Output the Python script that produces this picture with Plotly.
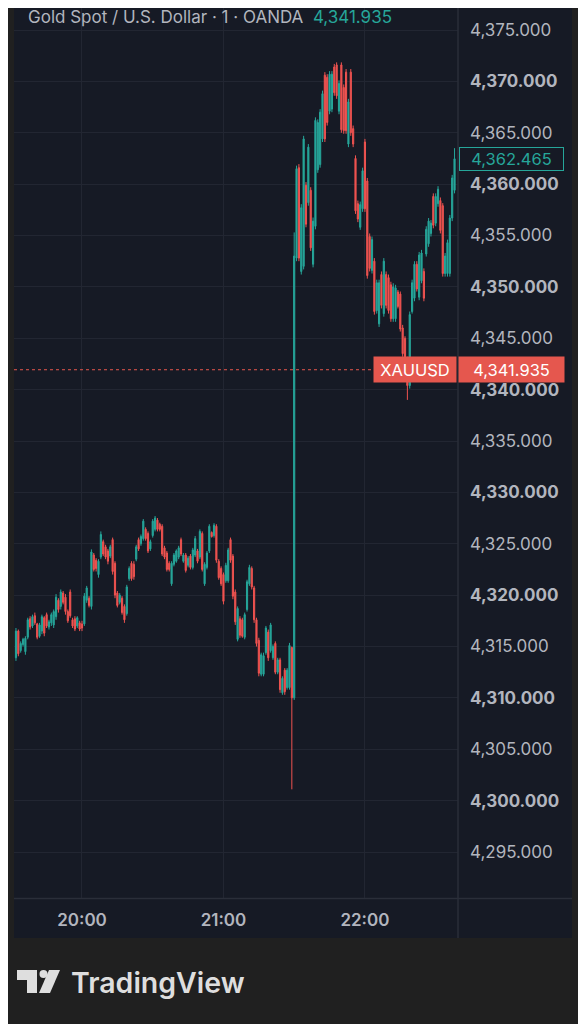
import plotly.graph_objects as go
import pandas as pd

# ---------------- data ----------------
start_time = "2025-10-21 19:32"

opens = [
    4313.9, 4316.5, 4314.6, 4315.2, 4314.5, 4315.9, 4317.7, 4317.0, 4318.0, 4317.2,
    4316.0, 4316.5, 4317.8, 4318.1, 4316.9, 4317.3, 4317.1, 4317.9, 4319.5, 4318.9,
    4320.2, 4319.8, 4318.4, 4320.3, 4317.6, 4317.7, 4317.0, 4317.3, 4317.2, 4317.2,
    4319.5, 4319.7, 4318.9, 4323.9, 4323.4, 4322.0, 4323.7, 4325.2, 4324.7, 4324.3,
    4323.8, 4325.4, 4323.1, 4320.2, 4319.3, 4319.7, 4318.9, 4318.2, 4321.6, 4323.1,
    4323.0, 4323.5, 4325.4, 4325.0, 4325.5, 4326.4, 4326.0, 4324.5, 4325.8, 4326.4,
    4327.3, 4326.9, 4326.7, 4324.6, 4324.1, 4323.1, 4321.1, 4323.0, 4323.3, 4323.7,
    4325.4, 4323.3, 4323.9, 4322.9, 4323.8, 4322.7, 4323.9, 4324.3, 4323.7, 4326.0,
    4321.1, 4322.7, 4324.3, 4326.1, 4325.8, 4326.7, 4323.3, 4322.6, 4322.0, 4321.4,
    4321.4, 4325.4, 4323.8, 4320.3, 4315.7, 4317.7, 4317.6, 4315.9, 4318.6, 4321.1,
    4322.6, 4320.7, 4317.6, 4315.6, 4312.3, 4312.3, 4314.4, 4316.4, 4314.6, 4313.9,
    4315.3, 4312.5, 4313.7, 4310.5, 4312.7, 4311.0, 4311.0, 4314.9, 4310.0, 4352.8,
    4361.6, 4351.5, 4352.0, 4359.9, 4358.2, 4359.4, 4352.2, 4355.9, 4361.4, 4361.9,
    4364.4, 4370.6, 4370.4, 4367.1, 4367.3, 4371.4, 4371.6, 4367.1, 4371.6, 4369.4,
    4370.9, 4363.9, 4370.9, 4365.4, 4362.5, 4358.1, 4355.8, 4357.6, 4364.1, 4360.3,
    4354.9, 4351.6, 4352.5, 4347.7, 4346.4, 4351.2, 4347.4, 4351.2, 4350.9, 4350.2,
    4346.9, 4346.9, 4349.5, 4349.3, 4346.0, 4345.0, 4343.0, 4340.4, 4347.6, 4348.9,
    4352.2, 4349.0, 4350.6, 4351.5, 4353.2, 4354.2, 4355.2, 4358.8, 4356.2, 4358.1,
    4358.4, 4357.9, 4351.3, 4351.3, 4351.3, 4356.7, 4359.4,
]
highs = [
    4316.8, 4316.65, 4315.5, 4315.85, 4316.0, 4317.8, 4317.95, 4318.1, 4318.3, 4317.3,
    4317.3, 4318.1, 4317.95, 4318.3, 4317.6, 4318.3, 4318.6, 4320.1, 4319.7, 4320.55,
    4320.4, 4320.1, 4318.6, 4320.55, 4317.8, 4317.95, 4317.95, 4317.5, 4317.5, 4320.2,
    4320.9, 4319.9, 4324.45, 4324.1, 4323.6, 4323.5, 4326.2, 4325.4, 4324.9, 4324.5,
    4324.9, 4325.6, 4323.3, 4320.4, 4320.2, 4319.9, 4319.1, 4321.0, 4322.8, 4323.3,
    4323.3, 4324.9, 4325.6, 4325.9, 4327.4, 4326.6, 4326.2, 4325.4, 4327.4, 4327.7,
    4327.5, 4327.05, 4326.9, 4324.8, 4324.3, 4323.3, 4323.3, 4324.1, 4324.45, 4324.8,
    4325.6, 4324.1, 4324.1, 4323.8, 4324.0, 4324.6, 4325.75, 4324.5, 4326.4, 4326.2,
    4323.2, 4324.3, 4326.9, 4326.2, 4327.0, 4326.9, 4323.5, 4322.8, 4322.2, 4323.15,
    4324.6, 4325.6, 4324.0, 4320.55, 4318.9, 4317.95, 4317.8, 4318.3, 4321.5, 4322.95,
    4322.8, 4320.9, 4317.8, 4315.85, 4314.4, 4314.4, 4317.0, 4316.65, 4317.3, 4315.2,
    4315.5, 4313.9, 4313.9, 4312.1, 4312.9, 4312.9, 4315.35, 4315.0, 4355.3, 4361.8,
    4361.95, 4358.05, 4364.7, 4360.2, 4363.9, 4359.7, 4356.75, 4366.5, 4366.3, 4367.3,
    4369.1, 4370.9, 4370.7, 4371.0, 4371.0, 4371.7, 4371.85, 4370.1, 4371.85, 4369.7,
    4371.2, 4368.3, 4371.2, 4365.7, 4362.8, 4358.4, 4358.3, 4361.6, 4364.4, 4360.6,
    4355.2, 4354.9, 4352.8, 4350.7, 4350.7, 4351.5, 4352.8, 4351.5, 4351.2, 4350.5,
    4350.35, 4350.2, 4349.7, 4349.55, 4346.3, 4345.2, 4343.2, 4347.6, 4350.7, 4352.5,
    4352.5, 4353.4, 4353.6, 4351.8, 4355.9, 4356.7, 4356.5, 4359.1, 4359.1, 4359.8,
    4358.7, 4358.15, 4353.3, 4354.6, 4357.0, 4360.9, 4363.5,
]
lows = [
    4313.6, 4314.05, 4314.4, 4315.0, 4314.2, 4315.7, 4316.65, 4316.8, 4317.1, 4315.7,
    4315.85, 4316.2, 4316.0, 4316.8, 4316.65, 4317.0, 4316.8, 4317.6, 4318.3, 4318.6,
    4319.1, 4318.1, 4317.3, 4317.8, 4316.8, 4316.5, 4316.8, 4316.5, 4316.5, 4317.0,
    4319.25, 4318.8, 4318.6, 4322.3, 4322.3, 4321.7, 4323.5, 4323.8, 4323.5, 4323.0,
    4323.6, 4322.0, 4319.7, 4318.8, 4319.1, 4318.1, 4317.3, 4318.0, 4321.4, 4321.4,
    4321.5, 4323.3, 4324.3, 4324.8, 4325.3, 4325.3, 4324.1, 4324.3, 4325.6, 4326.2,
    4326.2, 4326.2, 4323.8, 4323.5, 4322.3, 4322.3, 4320.9, 4322.8, 4323.15, 4323.5,
    4323.8, 4323.15, 4322.2, 4322.7, 4322.5, 4322.5, 4323.7, 4323.1, 4323.5, 4322.3,
    4320.9, 4322.5, 4324.1, 4325.6, 4325.6, 4323.15, 4321.5, 4320.9, 4319.1, 4321.2,
    4321.2, 4323.15, 4319.6, 4317.1, 4315.5, 4315.85, 4315.85, 4315.7, 4318.4, 4320.9,
    4320.55, 4317.3, 4315.0, 4312.1, 4312.1, 4312.1, 4314.2, 4313.6, 4314.4, 4313.7,
    4312.3, 4312.3, 4310.5, 4310.3, 4310.3, 4310.8, 4310.8, 4301.1, 4309.8, 4352.5,
    4352.5, 4351.2, 4351.7, 4355.8, 4357.9, 4353.5, 4351.9, 4355.6, 4361.1, 4361.6,
    4364.1, 4364.1, 4365.7, 4366.8, 4367.0, 4368.6, 4368.3, 4366.8, 4365.0, 4364.9,
    4364.9, 4363.6, 4364.7, 4363.6, 4357.1, 4356.3, 4355.55, 4357.3, 4357.3, 4350.8,
    4351.5, 4351.3, 4347.3, 4347.4, 4346.1, 4347.9, 4347.1, 4347.9, 4347.4, 4346.6,
    4346.6, 4346.6, 4347.9, 4345.65, 4343.2, 4342.0, 4339.0, 4340.1, 4347.4, 4348.6,
    4349.55, 4348.7, 4350.35, 4348.6, 4352.95, 4353.9, 4354.9, 4355.7, 4355.9, 4357.8,
    4355.2, 4351.0, 4351.0, 4351.0, 4351.0, 4356.4, 4359.1,
]
closes = [
    4316.5, 4314.3, 4315.3, 4315.7, 4315.8, 4317.6, 4316.9, 4317.9, 4317.3, 4315.9,
    4317.1, 4317.9, 4316.3, 4317.0, 4317.4, 4318.1, 4318.4, 4319.8, 4318.6, 4320.3,
    4319.3, 4318.4, 4317.5, 4318.0, 4317.0, 4316.7, 4317.8, 4316.7, 4316.8, 4319.9,
    4320.7, 4319.0, 4324.2, 4322.5, 4322.6, 4323.3, 4325.9, 4324.0, 4323.7, 4323.3,
    4324.7, 4322.3, 4320.0, 4319.0, 4320.0, 4318.3, 4317.6, 4320.8, 4322.6, 4321.6,
    4321.8, 4324.7, 4324.5, 4325.7, 4327.2, 4325.5, 4324.3, 4325.2, 4327.2, 4327.5,
    4326.4, 4326.4, 4324.0, 4323.7, 4322.5, 4322.5, 4323.1, 4323.9, 4324.3, 4324.6,
    4324.0, 4323.9, 4322.4, 4323.6, 4322.7, 4324.4, 4325.5, 4323.3, 4326.2, 4322.5,
    4323.0, 4324.1, 4326.7, 4325.7, 4326.8, 4323.4, 4321.7, 4321.1, 4319.4, 4322.9,
    4324.4, 4323.4, 4319.9, 4317.4, 4318.7, 4316.1, 4316.0, 4318.1, 4321.3, 4322.7,
    4320.8, 4317.6, 4315.3, 4312.4, 4314.2, 4314.1, 4316.8, 4313.9, 4317.1, 4315.0,
    4312.5, 4313.7, 4310.8, 4311.9, 4310.6, 4312.7, 4315.1, 4310.0, 4353.0, 4361.5,
    4352.8, 4357.7, 4364.4, 4356.1, 4363.6, 4353.8, 4356.4, 4366.2, 4366.0, 4367.0,
    4368.8, 4364.4, 4366.0, 4370.7, 4370.7, 4368.9, 4368.6, 4369.8, 4365.3, 4365.2,
    4365.2, 4368.0, 4365.0, 4363.9, 4357.4, 4356.6, 4358.0, 4361.3, 4357.6, 4351.1,
    4351.8, 4354.6, 4347.6, 4350.4, 4350.4, 4348.2, 4352.5, 4348.2, 4347.7, 4346.9,
    4350.0, 4349.9, 4348.1, 4345.9, 4343.5, 4342.3, 4340.4, 4347.3, 4350.4, 4352.2,
    4349.8, 4353.1, 4353.3, 4348.9, 4355.6, 4356.4, 4356.2, 4356.0, 4358.8, 4359.5,
    4355.5, 4351.3, 4353.0, 4354.3, 4356.7, 4360.6, 4362.465,
]

price_ticks = [4295, 4300, 4305, 4310, 4315, 4320, 4325, 4330, 4335, 4340,
               4345, 4350, 4355, 4360, 4365, 4370, 4375]
time_ticks = ["2025-10-21 20:00", "2025-10-21 21:00", "2025-10-21 22:00"]
time_tick_labels = ["20:00", "21:00", "22:00"]

symbol_title = "Gold Spot / U.S. Dollar · 1 · OANDA"
ref_price = 4341.935
last_price = 4362.465
symbol = "XAUUSD"

times = pd.date_range(start_time, periods=len(closes), freq="min")

# ---------------- styling ----------------
PAGE_BG = "#202020"
PANEL_BG = "#161a25"
GRID = "#222632"
SEP = "#2a2e39"
TEXT = "#b2b5be"
UP = "#26a69a"
DOWN = "#ef5350"
LABEL_RED = "#e5574e"
LOGO = "#dedede"
FONT = "Inter"

W, H = 586, 1024
OFF = 8                      # page offset of the figure div (body margin)
# plot area in screen px
S_L, S_R, S_T, S_B = 14, 458, OFF, 898
PL, PR, PT, PB = S_L - OFF, S_R - OFF, S_T - OFF, S_B - OFF


def px2x(sx):
    """screen x (px) -> paper x"""
    return (sx - OFF - PL) / (PR - PL)


def py2y(sy):
    """screen y (px) -> paper y"""
    return (PB - (sy - OFF)) / (PB - PT)


fig = go.Figure()
fig.add_trace(go.Candlestick(
    x=times, open=opens, high=highs, low=lows, close=closes,
    increasing=dict(line=dict(color=UP, width=1), fillcolor=UP),
    decreasing=dict(line=dict(color=DOWN, width=1), fillcolor=DOWN),
    whiskerwidth=0, showlegend=False, hoverinfo="skip",
))

tick_text = []
for v in price_ticks:
    s = f"{v:,.3f}"
    tick_text.append(f"<b>{s}</b>" if v % 10 == 0 else s)

shapes = [
    # panel background (covers axes areas)
    dict(type="rect", xref="paper", yref="paper", x0=px2x(14), x1=px2x(572),
         y0=py2y(938), y1=py2y(0), fillcolor=PANEL_BG, line=dict(width=0), layer="below"),
    # price axis separator
    dict(type="line", xref="paper", yref="paper", x0=px2x(458), x1=px2x(458),
         y0=py2y(938), y1=py2y(0), line=dict(color=SEP, width=1.5)),
    # time axis separator
    dict(type="line", xref="paper", yref="paper", x0=px2x(14), x1=px2x(572),
         y0=py2y(898.5), y1=py2y(898.5), line=dict(color=SEP, width=1.5)),
    # reference price dotted line
    dict(type="line", xref="paper", yref="y", x0=0, x1=px2x(373),
         y0=ref_price, y1=ref_price, line=dict(color=LABEL_RED, width=1, dash="dot")),
    # TradingView logo glyph
    dict(type="path", xref="paper", yref="paper",
         path=(f"M {px2x(17)},{py2y(970)} L {px2x(37)},{py2y(970)} L {px2x(37)},{py2y(993)} "
               f"L {px2x(27)},{py2y(993)} L {px2x(27)},{py2y(980)} L {px2x(17)},{py2y(980)} Z"),
         fillcolor=LOGO, line=dict(width=0)),
    dict(type="circle", xref="paper", yref="paper", x0=px2x(39.5), x1=px2x(47.5),
         y0=py2y(978), y1=py2y(970), fillcolor=LOGO, line=dict(width=0)),
    dict(type="path", xref="paper", yref="paper",
         path=(f"M {px2x(49)},{py2y(970)} L {px2x(60)},{py2y(970)} L {px2x(50)},{py2y(993)} "
               f"L {px2x(39)},{py2y(993)} Z"),
         fillcolor=LOGO, line=dict(width=0)),
]

annotations = [
    dict(xref="paper", yref="paper", x=px2x(26), y=py2y(17), xanchor="left", yanchor="middle",
         text=f"{symbol_title}  <span style='color:{UP}'>{ref_price:,.3f}</span>",
         showarrow=False, font=dict(family=FONT, size=17, color=TEXT)),
    dict(xref="paper", yref="y", x=px2x(415), y=ref_price, xanchor="center", yanchor="middle",
         text=symbol, showarrow=False, width=80, height=23, bgcolor=LABEL_RED, borderpad=1,
         font=dict(family=FONT, size=16.5, color="#ffffff")),
    dict(xref="paper", yref="y", x=px2x(511.5), y=ref_price, xanchor="center", yanchor="middle",
         text=f"{ref_price:,.3f}", showarrow=False, width=103, height=23, bgcolor=LABEL_RED,
         borderpad=1, font=dict(family=FONT, size=16.5, color="#ffffff")),
    dict(xref="paper", yref="y", x=px2x(511.5), y=last_price, xanchor="center", yanchor="middle",
         text=f"{last_price:,.3f}", showarrow=False, width=101, height=20, bgcolor=PANEL_BG,
         bordercolor=UP, borderwidth=1, borderpad=1, font=dict(family=FONT, size=16.5, color=UP)),
    dict(xref="paper", yref="paper", x=px2x(69), y=py2y(982), xanchor="left", yanchor="middle",
         text="TradingView", showarrow=False,
         font=dict(family=FONT, size=28.5, color=LOGO, weight=600)),
]

# y range so that 4375 sits at screen y=30 and 4295 at y=852
px_per_unit = (852 - 30) / 80.0
y_top = 4375 + (30 - S_T) / px_per_unit
y_bot = 4375 - (S_B - 30) / px_per_unit

fig.update_layout(
    width=W, height=H,
    margin=dict(l=PL, r=W - PR, t=PT, b=H - PB),
    paper_bgcolor=PAGE_BG, plot_bgcolor=PANEL_BG,
    shapes=shapes, annotations=annotations,
    showlegend=False,
    xaxis=dict(
        type="date", rangeslider=dict(visible=False),
        range=["2025-10-21 19:31:10", "2025-10-21 22:39:28"],
        tickvals=time_ticks, ticktext=time_tick_labels,
        showgrid=True, gridcolor=GRID, gridwidth=1, zeroline=False, showline=False,
        ticks="", ticklabelstandoff=10,
        tickfont=dict(family=FONT, size=17, color=TEXT, weight=600),
    ),
    yaxis=dict(
        side="right", range=[y_bot, y_top],
        tickvals=price_ticks, ticktext=tick_text,
        showgrid=True, gridcolor=GRID, gridwidth=1, zeroline=False, showline=False,
        ticks="", ticklabelstandoff=11,
        tickfont=dict(family=FONT, size=17, color=TEXT),
    ),
)

fig.write_html("out.html")
